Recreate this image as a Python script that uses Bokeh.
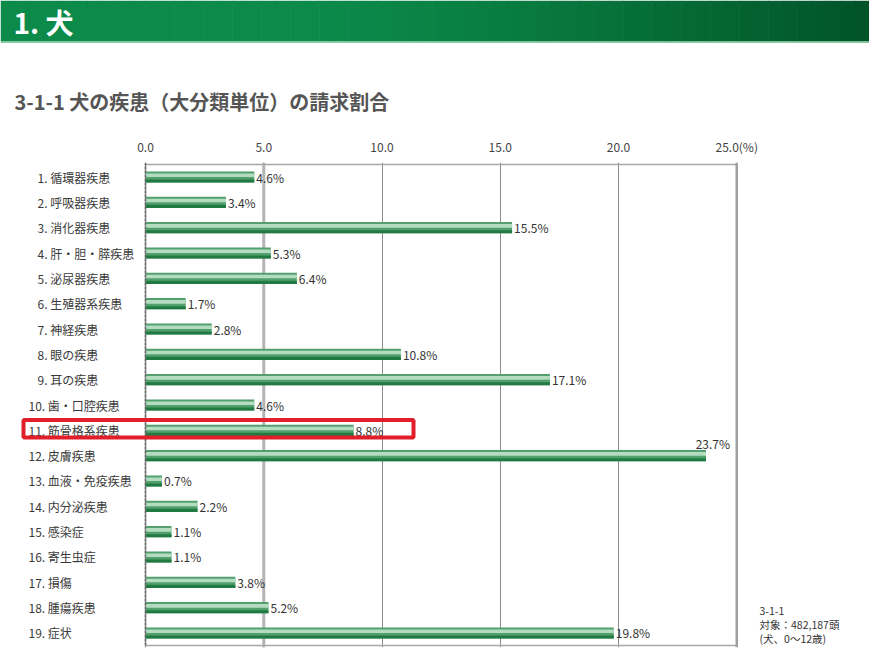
from bokeh.plotting import figure
from bokeh.layouts import column
from bokeh.models import (ColumnDataSource, LabelSet, Label, BoxAnnotation, Span,
                          Range1d, FixedTicker)
from bokeh.transform import dodge
from bokeh.core.properties import value
from bokeh.embed import file_html
from bokeh.resources import INLINE

# ---------------- data ----------------
categories = ["1. 循環器疾患", "2. 呼吸器疾患", "3. 消化器疾患", "4. 肝・胆・膵疾患",
              "5. 泌尿器疾患", "6. 生殖器系疾患", "7. 神経疾患", "8. 眼の疾患",
              "9. 耳の疾患", "10. 歯・口腔疾患", "11. 筋骨格系疾患", "12. 皮膚疾患",
              "13. 血液・免疫疾患", "14. 内分泌疾患", "15. 感染症", "16. 寄生虫症",
              "17. 損傷", "18. 腫瘍疾患", "19. 症状"]
values = [4.6, 3.4, 15.5, 5.3, 6.4, 1.7, 2.8, 10.8, 17.1, 4.6, 8.8, 23.7,
          0.7, 2.2, 1.1, 1.1, 3.8, 5.2, 19.8]
ticks = [0, 5, 10, 15, 20, 25]
tick_labels = ["0.0", "5.0", "10.0", "15.0", "20.0", "25.0(%)"]
highlight = "11. 筋骨格系疾患"
header_text = "1. 犬"
title_text = "3-1-1  犬の疾患（大分類単位）の請求割合"
note_lines = ["3-1-1", "対象：482,187頭", "(犬、0～12歳)"]

FONT = "Noto Sans CJK JP"
W = 869
TOP_H = 125
MAIN_H = 670 - TOP_H

# ---------------- header + title ----------------
top = figure(width=W, height=TOP_H, output_backend="svg", toolbar_location=None,
             x_range=Range1d(0, W), y_range=Range1d(TOP_H, 0),
             min_border=0, min_border_left=0, min_border_right=0,
             min_border_top=0, min_border_bottom=0)
top.axis.visible = False
top.grid.visible = False
top.outline_line_color = None
top.background_fill_color = "white"
top.border_fill_color = "white"

n = 60
c0 = (11, 138, 74)
c1 = (1, 84, 40)
lefts, rights, cols = [], [], []
for i in range(n):
    t = i / (n - 1)
    tt = 0 if t < 0.35 else ((t - 0.35) / 0.65) ** 1.3
    col = tuple(int(round(a + (b - a) * tt)) for a, b in zip(c0, c1))
    lefts.append(i * W / n)
    rights.append((i + 1) * W / n + 0.6)
    cols.append("#%02x%02x%02x" % col)
top.quad(left=lefts, right=rights, top=0, bottom=41, fill_color=cols, line_color=None)
top.quad(left=0, right=W, top=41, bottom=42.5, fill_color="#86c9a2", line_color=None)
top.text(x=[13], y=[21], text=[header_text], text_color="white", text_font_size="28px",
         text_font_style="bold", text_baseline="middle", text_font=value(FONT))
top.text(x=[14], y=[101], text=[title_text], text_color="#555555", text_font_size="20px",
         text_font_style="bold", text_baseline="middle", text_font=value(FONT))

# ---------------- main chart ----------------
SX = 23.65          # px per percent
BOX_L = 145         # px of 0 %
PY = 25.33          # px per row
x_start = -BOX_L / SX
x_end = (W - BOX_L) / SX
y_top = 1 - 14.5 / PY
y_bot = len(categories) + 14.5 / PY
box_top = 1 - 12.5 / PY
box_bot = len(categories) + 12.5 / PY

p = figure(width=W, height=MAIN_H, output_backend="svg", toolbar_location=None,
           x_range=Range1d(x_start, x_end), y_range=Range1d(y_bot, y_top),
           x_axis_location="above",
           min_border_left=0, min_border_right=0, min_border_top=37,
           min_border_bottom=23)
p.yaxis.visible = False
p.ygrid.visible = False
p.background_fill_color = "white"
p.border_fill_color = "white"
p.outline_line_color = None

xa = p.xaxis[0]
xa.ticker = FixedTicker(ticks=ticks)
xa.major_label_overrides = {t: l for t, l in zip(ticks, tick_labels)}
xa.axis_line_color = None
xa.major_tick_line_color = None
xa.minor_tick_line_color = None
xa.major_label_standoff = 2
xa.major_label_text_font = FONT
xa.major_label_text_font_size = "12px"
xa.major_label_text_color = "#444444"

p.xgrid.ticker = FixedTicker(ticks=ticks[1:-1])
p.xgrid.grid_line_color = "#8c8c8c"
p.xgrid.grid_line_width = 1

# chart box
p.quad(left=ticks[0], right=ticks[-1], top=box_top, bottom=box_bot,
       fill_color=None, line_color="#a8a8a8", line_width=1.5)
p.add_layout(Span(location=ticks[1], dimension="height", line_color="#b4b4b4",
                  line_width=3, level="underlay"))
p.add_layout(Span(location=ticks[-1], dimension="height", line_color="#a0a0a0",
                  line_width=2.5))
p.add_layout(Span(location=ticks[0], dimension="height", line_color="#666666",
                  line_width=1.5, line_dash="3 1"))

rows = list(range(1, len(categories) + 1))
labels = [f"{v:.1f}%" for v in values]
src = ColumnDataSource(dict(y=rows, v=values, cat=categories, lab=labels))

# bars with a simulated gradient
p.hbar(y="y", right="v", left=0, height=0.44, fill_color="#52a06d",
       line_color=None, source=src)
p.hbar(y=dodge("y", -0.07, range=p.y_range), right="v", left=0, height=0.14,
       fill_color="#b4dcc0", line_color=None, source=src)
p.hbar(y=dodge("y", 0.16, range=p.y_range), right="v", left=0, height=0.12,
       fill_color="#217a42", line_color=None, source=src)

# value labels
inside = [i for i, v in enumerate(values) if v <= 22]
outside = [i for i, v in enumerate(values) if v > 22]
src_in = ColumnDataSource(dict(y=[rows[i] for i in inside], v=[values[i] for i in inside],
                               lab=[labels[i] for i in inside]))
src_out = ColumnDataSource(dict(y=[rows[i] for i in outside], v=[values[i] for i in outside],
                                lab=[labels[i] for i in outside]))
p.add_layout(LabelSet(x="v", y="y", text="lab", source=src_in, x_offset=2,
                      text_baseline="middle", text_align="left",
                      text_font=value(FONT), text_font_size="12px", text_color="#333333"))
p.add_layout(LabelSet(x="v", y="y", text="lab", source=src_out, x_offset=24,
                      y_offset=12, text_baseline="middle", text_align="right",
                      text_font=value(FONT), text_font_size="12px", text_color="#333333"))

# category labels (left aligned, numbers aligned at their periods)
cat_x = [37 if len(c.split(".")[0]) == 1 else 28 for c in categories]
src_cat = ColumnDataSource(dict(y=rows, cat=categories, cx=cat_x))
p.add_layout(LabelSet(x="cx", y="y", text="cat", source=src_cat, x_units="canvas",
                      text_baseline="middle", text_align="left",
                      text_font=value(FONT), text_font_size="12px", text_color="#3a3a3a"))

# highlight box
hi = rows[categories.index(highlight)]
p.add_layout(BoxAnnotation(left=23, left_units="canvas", right=413, right_units="canvas",
                           top=hi - 10.3 / PY, bottom=hi + 7.2 / PY,
                           fill_color=None, fill_alpha=0, line_color="#e01f2a",
                           line_alpha=1, line_width=4))

# footnote
for k, line in enumerate(note_lines):
    p.add_layout(Label(x=759, y=610 - TOP_H + 14 * k, x_units="canvas", y_units="canvas",
                       text=line, text_color="#333333", text_font=FONT,
                       text_font_size="10.5px", text_baseline="middle"))

layout = column(top, p, spacing=0)
open("out.html", "w").write(file_html(layout, INLINE))
